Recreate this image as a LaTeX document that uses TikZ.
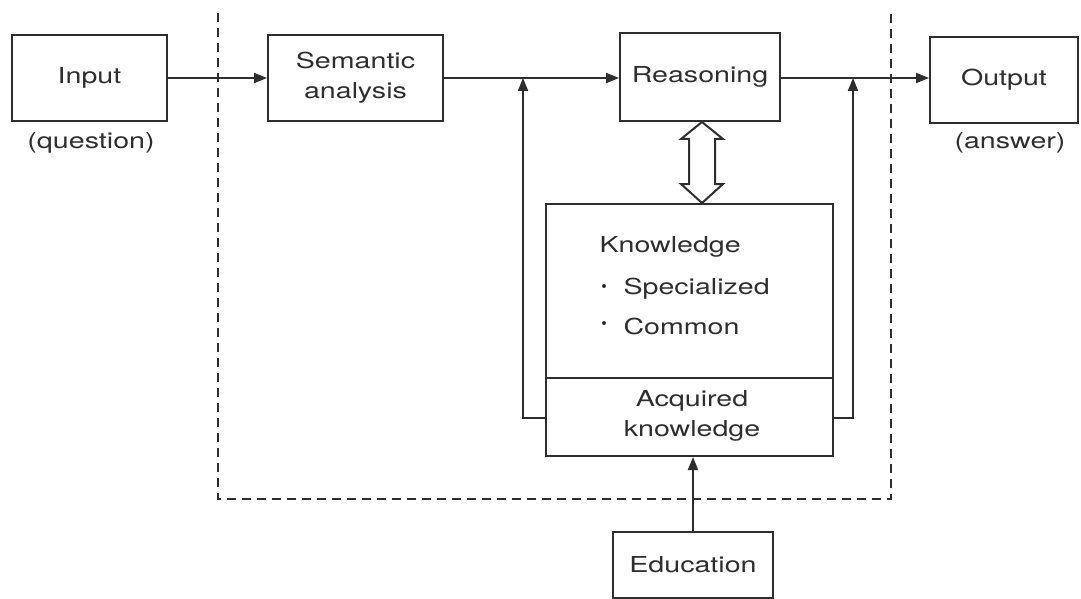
\documentclass[tikz,border=0pt]{standalone}
\usepackage{fontspec}
\setmainfont{TeX Gyre Heros}[FakeStretch=1.3]
\usetikzlibrary{calc,arrows.meta}
\definecolor{ink}{HTML}{2E2E2E}
\begin{document}
\begin{tikzpicture}[x=1pt,y=-1pt,
  every node/.style={text=ink, font=\fontsize{22}{30}\selectfont},
  box/.style={draw=ink, line width=2pt, inner sep=0pt, align=center},
  flow/.style={draw=ink, line width=2pt, -{Triangle[length=13pt,width=10pt]}},
  plain/.style={draw=ink, line width=2pt},
  dot/.style={circle, fill=ink, inner sep=0pt, minimum size=4pt},
  scope/.style={draw=ink, line width=2pt, dash pattern=on 9pt off 6pt}]
\useasboundingbox (0,0) rectangle (1081,599);

% processing blocks along the main line
\node[box, minimum width=155pt, minimum height=86pt] (inp) at (89.5,78) {Input};
\node[box, minimum width=175pt, minimum height=86pt] (sem) at (355.5,78) {Semantic\\analysis};
\node[box, minimum width=160pt, minimum height=88pt] (reas) at (700,77) {Reasoning};
\node[box, minimum width=148pt, minimum height=86pt] (out) at (1004,80) {Output};
\node (q) at (91,143) {(question)};
\node (a) at (1010,143) {(answer)};

% knowledge store with its acquired part
\node[box, minimum width=287pt, minimum height=252pt] (kn) at (689.5,330) {};
\draw[plain] (kn.west |- 0,378) coordinate (dl) -- (kn.east |- 0,378) coordinate (dr);
\node[anchor=west] (kt) at (596,247) {Knowledge};
\node[dot] (b1) at (604,286) {};
\node[anchor=west] (s1) at (620,289) {Specialized};
\node[dot] (b2) at (604,323) {};
\node[anchor=west] (s2) at (620,326) {Common};
\node[align=center] (acq) at (692,416) {Acquired\\knowledge};

\node[box, minimum width=160pt, minimum height=66pt] (edu) at (693,565) {Education};

% system boundary (open at the top)
\coordinate (c1) at (218,13);
\coordinate (c2) at (218,499);
\coordinate (c3) at (891,499);
\coordinate (c4) at (891,13);
\draw[scope] (c1) -- (c2) -- (c3) -- (c4);

% main flow
\coordinate (jl) at (523,78);
\coordinate (jr) at (853,78);
\draw[flow] (inp.east) -- (sem.west);
\draw[flow] (sem.east) -- (sem.east -| reas.west);
\draw[flow] (reas.east |- 0,78) -- (out.west |- 0,78);

% feedback from acquired knowledge
\coordinate (kl) at (kn.west |- 0,418);
\coordinate (kr) at (kn.east |- 0,418);
\draw[flow] (kl) -| (jl);
\draw[flow] (kr) -| (jr);
\draw[flow] (edu.north) -- (kn.south -| edu.north);

% two-way exchange between reasoning and knowledge
\coordinate (dt) at (reas.south -| 702,0);
\coordinate (db) at (kn.north -| 702,0);
\draw[plain, line join=miter] (dt) -- ($(dt)+(21,17)$) -- ($(dt)+(13,17)$) -- ($(db)+(13,-19)$)
  -- ($(db)+(21,-19)$) -- (db) -- ($(db)+(-21,-19)$) -- ($(db)+(-13,-19)$)
  -- ($(dt)+(-13,17)$) -- ($(dt)+(-21,17)$) -- cycle;
\end{tikzpicture}
\end{document}
